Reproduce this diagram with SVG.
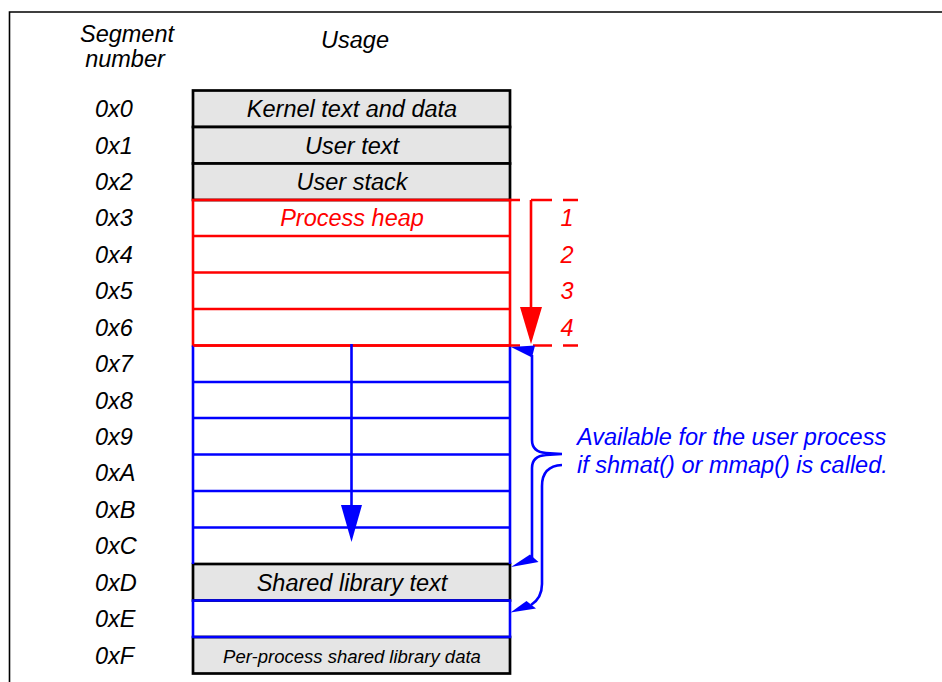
<svg xmlns="http://www.w3.org/2000/svg" width="942" height="682" viewBox="0 0 942 682">
  <style>
    text { font-family: "Liberation Sans", Arial, Helvetica, sans-serif; font-style: italic; }
    .lbl { font-size: 23.5px; fill: #000; }
    .cell { font-size: 23.5px; fill: #000; text-anchor: middle; }
    .small { font-size: 18.5px; fill: #000; text-anchor: middle; }
    .red { fill: #ff0000; }
    .blue { fill: #0000ff; }
    .frame { stroke: #000; stroke-width: 1.6; fill: none; }
    .box { fill: #e5e5e5; stroke: #000; stroke-width: 2.7; }
    .rline { stroke: #ff0000; stroke-width: 2.6; fill: none; }
    .bline { stroke: #0000ff; stroke-width: 2.6; fill: none; }
  </style>

  <!-- page frame -->
  <path class="frame" d="M9.5,682 V12 H942"/>

  <!-- column headings -->
  <g id="headings">
    <text class="lbl" x="127" y="41.5" text-anchor="middle">Segment</text>
    <text class="lbl" x="125" y="66.5" text-anchor="middle">number</text>
    <text class="lbl" x="355" y="48" text-anchor="middle">Usage</text>
  </g>

  <!-- segment numbers -->
  <g id="segment-numbers">
    <text class="lbl" x="95" y="117">0x0</text>
    <text class="lbl" x="95" y="153.5">0x1</text>
    <text class="lbl" x="95" y="190">0x2</text>
    <text class="lbl" x="95" y="226">0x3</text>
    <text class="lbl" x="95" y="262.5">0x4</text>
    <text class="lbl" x="95" y="299">0x5</text>
    <text class="lbl" x="95" y="335.5">0x6</text>
    <text class="lbl" x="95" y="372">0x7</text>
    <text class="lbl" x="95" y="408.5">0x8</text>
    <text class="lbl" x="95" y="444.5">0x9</text>
    <text class="lbl" x="95" y="481">0xA</text>
    <text class="lbl" x="95" y="517.5">0xB</text>
    <text class="lbl" x="95" y="554">0xC</text>
    <text class="lbl" x="95" y="590.5">0xD</text>
    <text class="lbl" x="95" y="627">0xE</text>
    <text class="lbl" x="95" y="663.5">0xF</text>
  </g>

  <!-- fixed segments -->
  <g id="seg-kernel">
    <rect class="box" x="193" y="90.5" width="317" height="36.5"/>
    <text class="cell" x="352" y="117">Kernel text and data</text>
  </g>
  <g id="seg-user-text">
    <rect class="box" x="193" y="127" width="317" height="36.5"/>
    <text class="cell" x="352" y="153.5">User text</text>
  </g>
  <g id="seg-user-stack">
    <rect class="box" x="193" y="163.5" width="317" height="36.5"/>
    <text class="cell" x="352" y="190">User stack</text>
  </g>
  <g id="seg-shlib-text">
    <rect class="box" x="193" y="564" width="317" height="36.5"/>
    <text class="cell" x="352" y="590.5">Shared library text</text>
  </g>
  <g id="seg-shlib-data">
    <rect class="box" x="193" y="637" width="317" height="36.5"/>
    <text class="small" x="352" y="663">Per-process shared library data</text>
  </g>

  <!-- process heap segments 0x3-0x6 -->
  <g id="seg-heap">
    <rect class="rline" x="193" y="200" width="317" height="145.5" fill="#fff"/>
    <path class="rline" d="M193,236 H510 M193,272.5 H510 M193,309 H510"/>
    <text class="cell red" x="352" y="226">Process heap</text>
  </g>

  <!-- available segments 0x7-0xC and 0xE -->
  <g id="seg-available">
    <path class="bline" d="M193,345.5 V564 M510,345.5 V564"/>
    <path class="bline" d="M193,382 H510 M193,418 H510 M193,454.5 H510 M193,491 H510 M193,527.5 H510"/>
    <path class="bline" d="M193,600.5 H510 V637 H193 Z"/>
  </g>
  <!-- red top/bottom over the blue edge -->
  <path class="rline" d="M193,345.5 H510"/>

  <!-- heap growth markers -->
  <g id="heap-numbers">
    <text class="lbl red" x="567" y="226" text-anchor="middle">1</text>
    <text class="lbl red" x="567" y="262.5" text-anchor="middle">2</text>
    <text class="lbl red" x="567" y="299" text-anchor="middle">3</text>
    <text class="lbl red" x="567" y="335.5" text-anchor="middle">4</text>
  </g>

  <g id="connectors">
    <!-- dashed extent of the heap -->
    <path class="rline" d="M510,200 H520 M531,200 H552 M563,200 H578 M510,345.5 H520 M533,345.5 H552 M563,345.5 H578"/>
    <!-- heap growth arrow -->
    <path class="rline" d="M531,200 V310"/>
    <polygon fill="#ff0000" points="520,307 542,307 531,344"/>

    <!-- growth through the free segments -->
    <path class="bline" d="M351.5,344 V507"/>
    <polygon fill="#0000ff" points="341,505 362,505 351.5,542"/>

    <!-- brace -->
    <path class="bline" d="M532,355 V440 Q532,452 546,453 L562,454 M562,454 L546,455 Q532,456 532,468 V558"/>
    <polygon fill="#0000ff" points="511,347 535,345.5 532,357.5"/>
    <polygon fill="#0000ff" points="511,567 530,554.5 538.5,562"/>

    <!-- arrow to segment 0xE -->
    <path class="bline" d="M562,465 Q542,466 542,486 V584 Q542,598 531,605"/>
    <polygon fill="#0000ff" points="510.5,612.5 526.5,601 536,608.5"/>
  </g>

  <g id="note">
    <text class="lbl blue" x="577" y="445">Available for the user process</text>
    <text class="lbl blue" x="577" y="473">if shmat() or mmap() is called.</text>
  </g>
</svg>
